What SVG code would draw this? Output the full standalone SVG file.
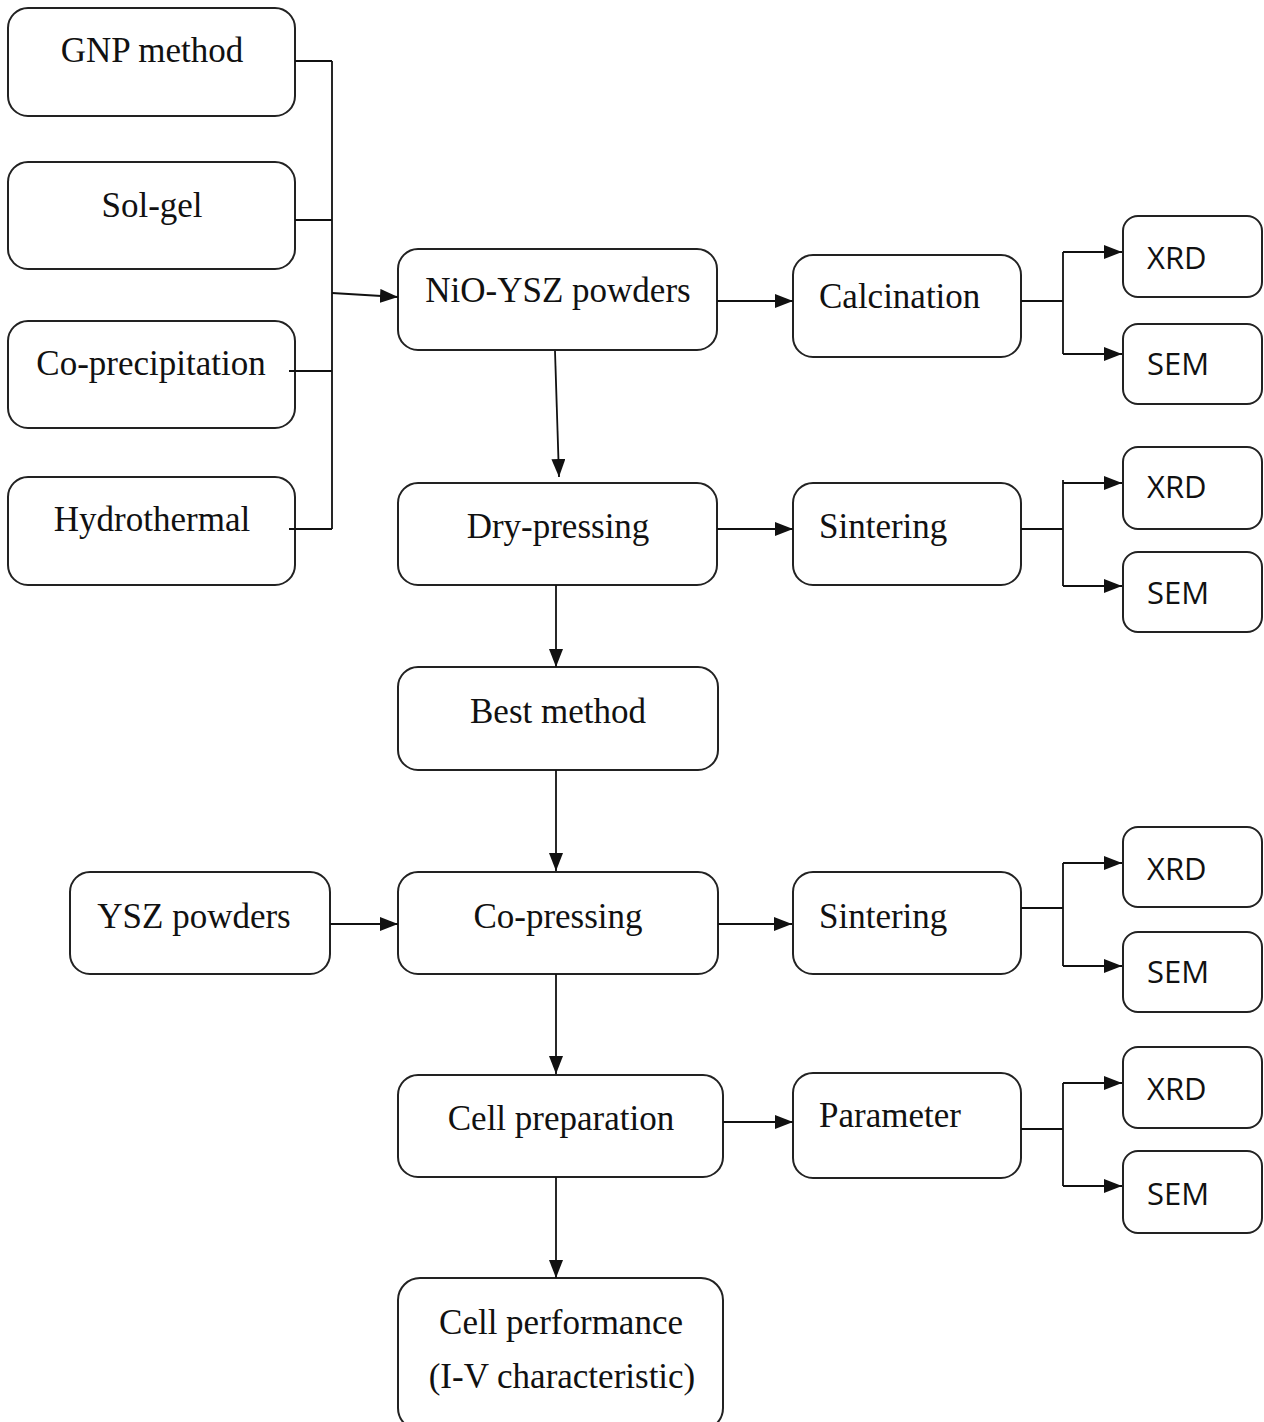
<svg xmlns="http://www.w3.org/2000/svg" width="1264" height="1422" viewBox="0 0 1264 1422">
  <defs>
    <marker id="arrow" viewBox="0 0 18 14" refX="18" refY="7" markerWidth="18" markerHeight="14" markerUnits="userSpaceOnUse" orient="auto">
      <path d="M0,0 L18,7 L0,14 Z" fill="#111"/>
    </marker>
    <style>
      .box { fill: #fff; stroke: #222; stroke-width: 2; }
      .lbl { font-family: "Liberation Serif", "Times New Roman", serif; font-size: 35px; fill: #111; }
      .mid { text-anchor: middle; }
      .tag { font-family: "Open Sans", "Liberation Sans", sans-serif; font-size: 31px; fill: #111; }
      .wire { fill: none; stroke: #111; stroke-width: 1.8; }
      .arr { fill: none; stroke: #111; stroke-width: 1.8; marker-end: url(#arrow); }
    </style>
  </defs>
  <rect width="1264" height="1422" fill="#fff"/>

  <!-- synthesis routes -->
  <g id="gnp"><rect class="box" x="8" y="8" width="287" height="108" rx="20"/><text class="lbl mid" x="152" y="62">GNP method</text></g>
  <g id="solgel"><rect class="box" x="8" y="162" width="287" height="107" rx="20"/><text class="lbl mid" x="152" y="217">Sol-gel</text></g>
  <g id="coprecip"><rect class="box" x="8" y="321" width="287" height="107" rx="20"/><text class="lbl mid" x="151" y="375">Co-precipitation</text></g>
  <g id="hydro"><rect class="box" x="8" y="477" width="287" height="108" rx="20"/><text class="lbl mid" x="152" y="531">Hydrothermal</text></g>

  <!-- main process column -->
  <g id="nioysz"><rect class="box" x="398" y="249" width="319" height="101" rx="20"/><text class="lbl mid" x="558" y="302">NiO-YSZ powders</text></g>
  <g id="drypress"><rect class="box" x="398" y="483" width="319" height="102" rx="20"/><text class="lbl mid" x="558" y="538">Dry-pressing</text></g>
  <g id="best"><rect class="box" x="398" y="667" width="320" height="103" rx="20"/><text class="lbl mid" x="558" y="723">Best method</text></g>
  <g id="ysz"><rect class="box" x="70" y="872" width="260" height="102" rx="20"/><text class="lbl mid" x="194" y="928">YSZ powders</text></g>
  <g id="copress"><rect class="box" x="398" y="872" width="320" height="102" rx="20"/><text class="lbl mid" x="558" y="928">Co-pressing</text></g>
  <g id="cellprep"><rect class="box" x="398" y="1075" width="325" height="102" rx="20"/><text class="lbl mid" x="561" y="1130">Cell preparation</text></g>
  <g id="cellperf"><rect class="box" x="398" y="1278" width="325" height="152" rx="22"/><text class="lbl mid" x="561" y="1334">Cell performance</text><text class="lbl mid" x="562" y="1388">(I-V characteristic)</text></g>

  <!-- treatment steps -->
  <g id="calcination"><rect class="box" x="793" y="255" width="228" height="102" rx="20"/><text class="lbl" x="819" y="308">Calcination</text></g>
  <g id="sinter1"><rect class="box" x="793" y="483" width="228" height="102" rx="20"/><text class="lbl" x="819" y="538">Sintering</text></g>
  <g id="sinter2"><rect class="box" x="793" y="872" width="228" height="102" rx="20"/><text class="lbl" x="819" y="928">Sintering</text></g>
  <g id="parameter"><rect class="box" x="793" y="1073" width="228" height="105" rx="20"/><text class="lbl" x="819" y="1127">Parameter</text></g>

  <!-- characterisation -->
  <g id="xrd1"><rect class="box" x="1123" y="216" width="139" height="81" rx="15"/><text class="tag" x="1147" y="269">XRD</text></g>
  <g id="sem1"><rect class="box" x="1123" y="324" width="139" height="80" rx="15"/><text class="tag" x="1147" y="375">SEM</text></g>
  <g id="xrd2"><rect class="box" x="1123" y="447" width="139" height="82" rx="15"/><text class="tag" x="1147" y="498">XRD</text></g>
  <g id="sem2"><rect class="box" x="1123" y="552" width="139" height="80" rx="15"/><text class="tag" x="1147" y="604">SEM</text></g>
  <g id="xrd3"><rect class="box" x="1123" y="827" width="139" height="80" rx="15"/><text class="tag" x="1147" y="880">XRD</text></g>
  <g id="sem3"><rect class="box" x="1123" y="932" width="139" height="80" rx="15"/><text class="tag" x="1147" y="983">SEM</text></g>
  <g id="xrd4"><rect class="box" x="1123" y="1047" width="139" height="81" rx="15"/><text class="tag" x="1147" y="1100">XRD</text></g>
  <g id="sem4"><rect class="box" x="1123" y="1151" width="139" height="82" rx="15"/><text class="tag" x="1147" y="1205">SEM</text></g>

  <g id="connectors">
    <!-- routes merge into one bus -->
    <path class="wire" d="M295,61 H332 M295,220 H332 M289,371 H332 M289,529 H332 M332,61 V529"/>
    <path class="arr" d="M332,293 L398,297"/>
    <!-- main column -->
    <path class="arr" d="M555,351 L559,477"/>
    <path class="arr" d="M556,585 V667"/>
    <path class="arr" d="M556,770 V871"/>
    <path class="arr" d="M330,924 H398"/>
    <path class="arr" d="M556,974 V1074"/>
    <path class="arr" d="M556,1177 V1278"/>
    <!-- to treatment steps -->
    <path class="arr" d="M717,301 H793"/>
    <path class="arr" d="M717,529 H793"/>
    <path class="arr" d="M718,924 H792"/>
    <path class="arr" d="M723,1122 H793"/>
    <!-- fan-out to XRD / SEM -->
    <path class="wire" d="M1021,301 H1063 M1063,252 V354"/>
    <path class="arr" d="M1063,252 H1122"/>
    <path class="arr" d="M1063,354 H1122"/>
    <path class="wire" d="M1021,529 H1063 M1063,480 V586"/>
    <path class="arr" d="M1063,483 H1122"/>
    <path class="arr" d="M1063,586 H1122"/>
    <path class="wire" d="M1021,908 H1063 M1063,863 V966"/>
    <path class="arr" d="M1063,863 H1122"/>
    <path class="arr" d="M1063,966 H1122"/>
    <path class="wire" d="M1021,1129 H1063 M1063,1083 V1186"/>
    <path class="arr" d="M1063,1083 H1122"/>
    <path class="arr" d="M1063,1186 H1122"/>
  </g>
</svg>
